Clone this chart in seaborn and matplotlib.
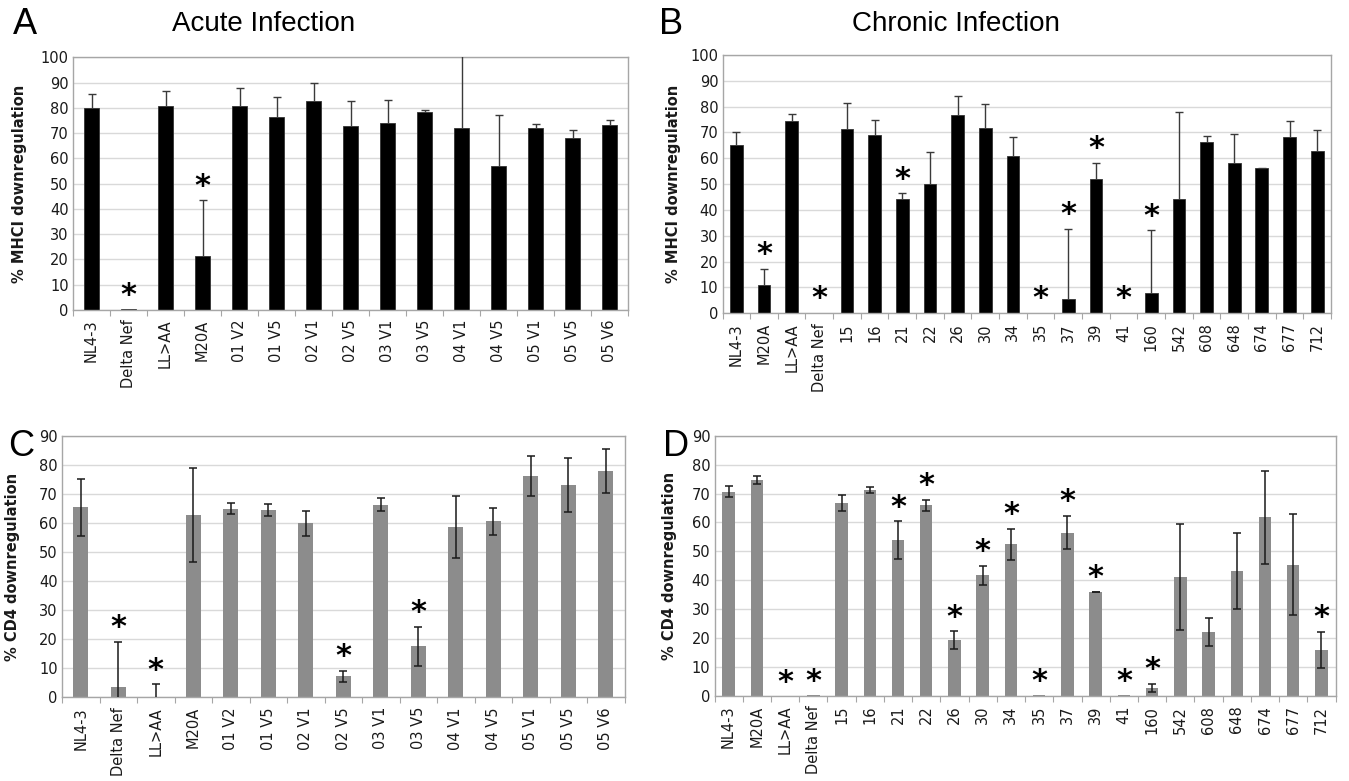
import numpy as np
import pandas as pd
import matplotlib
matplotlib.use("Agg")
import matplotlib.pyplot as plt
import seaborn as sns
from matplotlib import font_manager

# ---------------- data ----------------
acute_labels = ["NL4-3", "Delta Nef", "LL>AA", "M20A", "01 V2", "01 V5", "02 V1",
                "02 V5", "03 V1", "03 V5", "04 V1", "04 V5", "05 V1", "05 V5", "05 V6"]
chronic_labels = ["NL4-3", "M20A", "LL>AA", "Delta Nef", "15", "16", "21", "22", "26",
                  "30", "34", "35", "37", "39", "41", "160", "542", "608", "648",
                  "674", "677", "712"]

# Panel A: % MHCI downregulation, acute infection (mean, upper error)
mhci_acute = [79.8, 0.3, 80.9, 21.5, 80.9, 76.5, 82.8, 73.0, 73.9, 78.4,
              71.9, 57.0, 71.9, 68.2, 73.2]
mhci_acute_err = [5.8, 0.0, 5.9, 22.0, 7.1, 7.9, 7.0, 9.7, 9.1, 0.9,
                  35.0, 20.3, 1.7, 3.2, 2.1]
mhci_acute_sig = ["Delta Nef", "M20A"]

# Panel B: % MHCI downregulation, chronic infection (mean, upper error)
mhci_chronic = [65.2, 11.1, 74.5, 0.3, 71.5, 68.9, 44.3, 49.9, 76.8, 71.6, 60.9,
                0.3, 5.5, 51.9, 0.3, 8.0, 44.4, 66.2, 58.3, 56.1, 68.1, 62.7]
mhci_chronic_err = [5.1, 6.1, 2.5, 0.0, 10.0, 5.9, 2.3, 12.4, 7.5, 9.3, 7.4,
                    0.0, 27.3, 6.4, 0.0, 24.1, 33.4, 2.4, 11.3, 0.3, 6.3, 8.3]
mhci_chronic_sig = ["M20A", "Delta Nef", "21", "35", "37", "39", "41", "160"]

# Panel C: % CD4 downregulation, acute infection (mean, +/- error)
cd4_acute = [65.4, 3.7, 0.0, 62.7, 64.9, 64.5, 59.9, 7.3, 66.4, 17.5,
             58.8, 60.6, 76.3, 73.2, 77.9]
cd4_acute_err = [9.7, 15.5, 4.5, 16.2, 1.9, 2.0, 4.3, 1.9, 2.4, 6.8,
                 10.7, 4.7, 6.9, 9.3, 7.5]
cd4_acute_sig = ["Delta Nef", "LL>AA", "02 V5", "03 V5"]

# Panel D: % CD4 downregulation, chronic infection (mean, +/- error)
cd4_chronic = [70.7, 74.8, 0.0, 0.3, 66.7, 71.2, 53.9, 66.0, 19.4, 41.7, 52.4,
               0.3, 56.5, 35.9, 0.3, 2.8, 41.0, 22.2, 43.2, 61.8, 45.4, 16.0]
cd4_chronic_err = [1.9, 1.4, 0.0, 0.0, 2.7, 1.0, 6.5, 1.9, 3.1, 3.4, 5.4,
                   0.0, 5.8, 0.1, 0.0, 1.4, 18.3, 4.9, 13.1, 16.0, 17.4, 6.2]
cd4_chronic_sig = ["LL>AA", "Delta Nef", "21", "22", "26", "30", "34", "35",
                   "37", "39", "41", "160", "712"]

# ---------------- style ----------------
sns.set_theme(style="white")
plt.rcParams["font.family"] = ["DejaVu Sans"]
available = {f.name for f in font_manager.fontManager.ttflist}
narrow = "Liberation Sans Narrow" if "Liberation Sans Narrow" in available else "Liberation Sans"

FRAME = "#a6a6a6"
GRID = "#d9d9d9"
INK = "#1a1a1a"

fig = plt.figure(figsize=(13.49, 7.81), dpi=100)


def panel(rect, labels, values, errs, sig, ymax, ylabel, bar_color, edge_width,
          err_color, width, symmetric, label_x):
    ax = fig.add_axes(rect)
    df = pd.DataFrame({"strain": labels, "value": values})
    sns.barplot(data=df, x="strain", y="value", color=bar_color, saturation=1,
                width=width, edgecolor="#333333", linewidth=edge_width,
                errorbar=None, ax=ax, zorder=2)
    n = len(labels)
    xs = np.arange(n)
    vals = np.asarray(values, dtype=float)
    e = np.asarray(errs, dtype=float)
    has = e > 0
    if symmetric:
        ax.errorbar(xs[has], vals[has], yerr=e[has], fmt="none", ecolor=err_color,
                    elinewidth=1.1, capsize=3.2, capthick=1.1, zorder=3)
    else:
        eb = ax.errorbar(xs[has], vals[has], yerr=[np.zeros(has.sum()), e[has]],
                         fmt="none", ecolor=err_color, elinewidth=1.0,
                         capsize=3.0, capthick=1.0, zorder=3)
        eb[1][0].set_visible(False)
    tops = vals + e
    for i, lab in enumerate(labels):
        if lab in sig:
            ax.annotate("*", xy=(xs[i], tops[i]), xytext=(0, 10),
                        textcoords="offset points", ha="center", va="center",
                        fontsize=22, fontweight="bold", color="black", zorder=4)

    ax.set_xlim(-0.5, n - 0.5)
    ax.set_ylim(0, ymax)
    ax.set_yticks(np.arange(0, ymax + 1, 10))
    ax.set_xticks(xs)
    ax.set_xticklabels(labels, rotation=90, fontsize=10.5, color=INK)
    ax.set_xticks(np.arange(n + 1) - 0.5, minor=True)
    ax.tick_params(axis="x", which="major", length=0, pad=7)
    ax.tick_params(axis="x", which="minor", length=4, width=0.8, color=FRAME,
                   direction="out", bottom=True)
    ax.tick_params(axis="y", length=0, pad=3, labelsize=10.5, labelcolor=INK)
    ax.yaxis.grid(True, color=GRID, linewidth=1.0)
    ax.xaxis.grid(False)
    ax.set_axisbelow(True)
    for s in ax.spines.values():
        s.set_visible(True)
        s.set_color(FRAME)
        s.set_linewidth(1.0)
    ax.set_xlabel("")
    ax.set_ylabel(ylabel, fontsize=10.5, fontweight="bold", color=INK)
    ax.yaxis.set_label_coords(label_x, 0.5)
    return ax


W, H = 1349.0, 781.0


def rect(left, right, top, bottom):
    return [left / W, 1 - bottom / H, (right - left) / W, (bottom - top) / H]


panel(rect(73, 628, 57.3, 310), acute_labels, mhci_acute, mhci_acute_err,
      mhci_acute_sig, 100, "% MHCI downregulation", "black", 0.6,
      "#3a3a3a", 0.4, False, -0.083)
panel(rect(722.5, 1331, 55, 313.3), chronic_labels, mhci_chronic,
      mhci_chronic_err, mhci_chronic_sig, 100, "% MHCI downregulation", "black",
      0.6, "#3a3a3a", 0.46, False, -0.069)
panel(rect(62, 624.5, 436, 697.3), acute_labels, cd4_acute, cd4_acute_err,
      cd4_acute_sig, 90, "% CD4 downregulation", "#8c8c8c", 0,
      INK, 0.4, True, -0.075)
panel(rect(714.5, 1335.6, 435.7, 696), chronic_labels, cd4_chronic,
      cd4_chronic_err, cd4_chronic_sig, 90, "% CD4 downregulation", "#8c8c8c",
      0, INK, 0.44, True, -0.061)

# panel letters and titles
for letter, x, y in [("A", 25, 24), ("B", 671, 24), ("C", 21, 446), ("D", 676, 446)]:
    fig.text(x / W, 1 - y / H, letter, family=narrow, fontsize=26,
             ha="center", va="center", color="black")
fig.text(264 / W, 1 - 24 / H, "Acute Infection", family=narrow, fontsize=20,
         ha="center", va="center", color="black")
fig.text(956 / W, 1 - 24 / H, "Chronic Infection", family=narrow, fontsize=20,
         ha="center", va="center", color="black")

fig.savefig("out.png", dpi=100)
